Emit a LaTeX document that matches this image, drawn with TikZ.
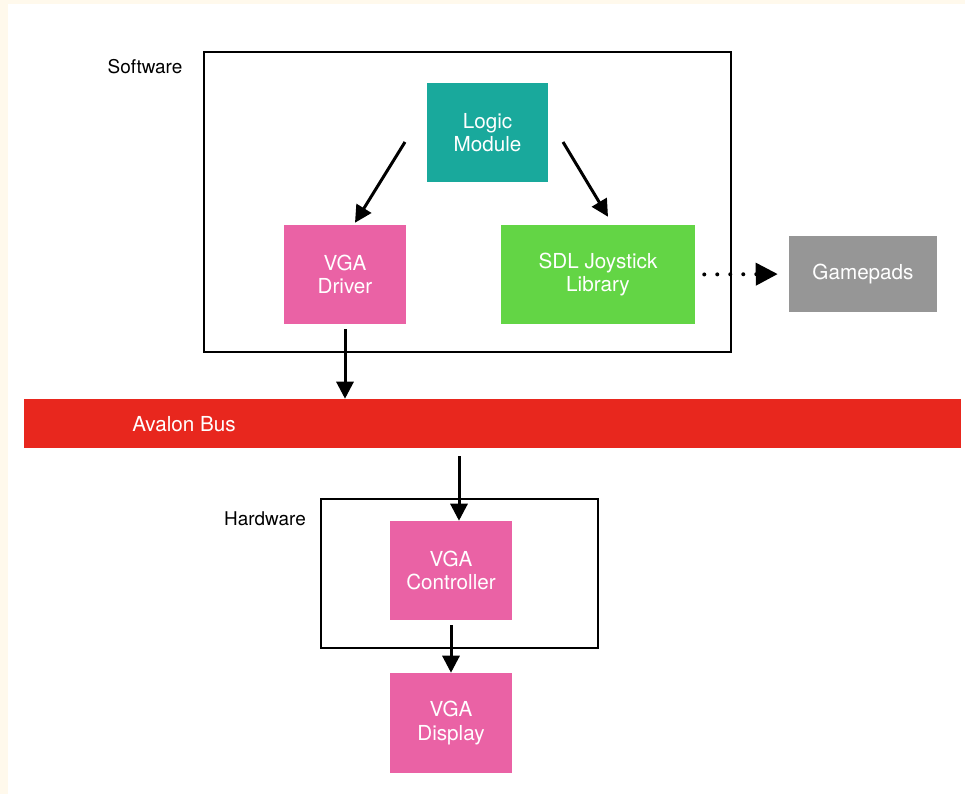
\documentclass[tikz,border=0pt]{standalone}
\usepackage{fontspec}
\setmainfont{TeX Gyre Heros}
\usetikzlibrary{arrows.meta}
\definecolor{cream}{HTML}{FFF9EC}
\definecolor{logicteal}{HTML}{19A99C}
\definecolor{vgapink}{HTML}{EA62A5}
\definecolor{sdlgreen}{HTML}{63D545}
\definecolor{padgray}{HTML}{969696}
\definecolor{busred}{HTML}{E8271E}
\tikzset{
	block/.style = {rectangle, inner sep=0pt, align=center, text=white, font=\fontsize{15.5}{17.5}\selectfont},
	layer/.style = {rectangle, draw=black, line width=1.5pt, inner sep=0pt},
	tag/.style = {inner sep=0pt, font=\fontsize{14.2}{17}\selectfont},
	arr/.style = {line width=2.25pt, -{Triangle[length=12.75pt,width=12.75pt]}}
}
\begin{document}
\begin{tikzpicture}[x = .75pt, y = -.75pt]
				\fill[cream] (0,0) rectangle (965,794);
				\fill[white] (8,4) rectangle (965,794);
				\useasboundingbox (0,0) rectangle (965,794);
				\node[layer, minimum width=395.25pt, minimum height=225pt] (sw) at (467.5,202) {}; %software box
				\node[layer, minimum width=207.75pt, minimum height=111.75pt] (hw) at (459.5,573.5) {}; %hardware box
				\node[tag] (swlabel) at (145,67) {Software};
				\node[tag] (hwlabel) at (265,519) {Hardware};
				\node[block, fill=logicteal, minimum width=90.75pt, minimum height=74.25pt] (logic) at (487.5,132.5) {Logic\\Module};
				\node[block, fill=vgapink, minimum width=91.5pt, minimum height=74.25pt] (driver) at (345,274.5) {VGA\\Driver};
				\node[block, fill=sdlgreen, minimum width=145.5pt, minimum height=74.25pt] (sdl) at (598,274.5) {SDL Joystick\\Library};
				\node[block, fill=padgray, minimum width=111pt, minimum height=57pt] (pads) at (863,274) {Gamepads};
				\node[block, fill=busred, minimum width=702.75pt, minimum height=36.75pt] (bus) at (492.5,423.5) {};
				\node[block, anchor=west] (buslabel) at (132,424) {Avalon Bus};
				\node[block, fill=vgapink, minimum width=91.5pt, minimum height=74.25pt] (ctrl) at (451,570.5) {VGA\\Controller};
				\node[block, fill=vgapink, minimum width=91.5pt, minimum height=75pt] (disp) at (451,723) {VGA\\Display};
				\coordinate (lmleft) at (405,142);
				\coordinate (lmright) at (563,142);
				\coordinate (busout) at (459,456);
				\draw[arr] (lmleft) -- ([xshift=7.5pt, yshift=1.5pt]driver.north);
				\draw[arr] (lmright) -- ([xshift=7.5pt, yshift=6pt]sdl.north);
				\draw[arr] ([yshift=-3.75pt]driver.south) -- (driver.south |- bus.north);
				\draw[arr] (busout) -- (busout |- ctrl.north);
				\draw[arr] ([yshift=-3.75pt]ctrl.south) -- (disp.north);
				\draw[line width=3pt, line cap=round, dash pattern=on 0pt off 9.75pt, shorten <=6.75pt, shorten >=8.25pt, -{Triangle[length=16.5pt,width=16.5pt]}] (sdl.east) -- (pads.west); %dotted link
\end{tikzpicture}
\end{document}
